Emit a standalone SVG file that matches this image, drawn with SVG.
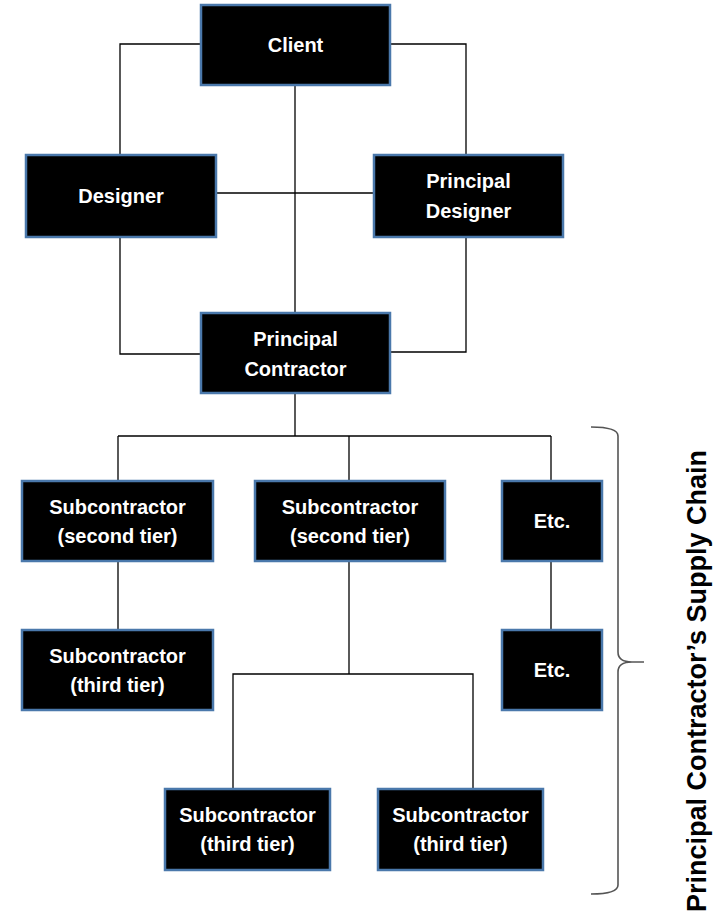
<svg xmlns="http://www.w3.org/2000/svg" width="715" height="920" viewBox="0 0 715 920">
<style>
.box{fill:#000;stroke:#4a78ab;stroke-width:2.5}
.t{fill:#fff;font-family:"Liberation Sans",Arial,sans-serif;font-weight:bold;font-size:20px;text-anchor:middle}
.c{fill:none;stroke:#000;stroke-width:1.3}
.brace{fill:none;stroke:#555;stroke-width:1.6}
.lbl{fill:#000;font-family:"Liberation Sans",Arial,sans-serif;font-weight:bold;font-size:27px;text-anchor:middle}
</style>
<rect width="715" height="920" fill="#fff"/>
<g id="connectors">
<polyline class="c" points="201,44 120,44 120,155"/>
<polyline class="c" points="390,44 466,44 466,155"/>
<line class="c" x1="295" y1="85" x2="295" y2="313"/>
<line class="c" x1="216" y1="193" x2="374" y2="193"/>
<polyline class="c" points="120,237 120,354 201,354"/>
<polyline class="c" points="466,237 466,352 390,352"/>
<line class="c" x1="295" y1="393" x2="295" y2="436"/>
<line class="c" x1="118" y1="436" x2="551" y2="436"/>
<line class="c" x1="118" y1="436" x2="118" y2="481"/>
<line class="c" x1="349" y1="436" x2="349" y2="481"/>
<line class="c" x1="551" y1="436" x2="551" y2="481"/>
<line class="c" x1="118" y1="561" x2="118" y2="630"/>
<line class="c" x1="349" y1="561" x2="349" y2="674"/>
<polyline class="c" points="233,789 233,674 473,674 473,789"/>
<line class="c" x1="551" y1="561" x2="551" y2="630"/>
</g>
<g id="client"><rect class="box" x="201" y="5" width="189" height="80"/><text class="t" x="295.5" y="52">Client</text></g>
<g id="designer"><rect class="box" x="26" y="155" width="190" height="82"/><text class="t" x="121" y="203">Designer</text></g>
<g id="principal-designer"><rect class="box" x="374" y="155" width="189" height="82"/><text class="t" x="468.5" y="188">Principal</text><text class="t" x="468.5" y="218">Designer</text></g>
<g id="principal-contractor"><rect class="box" x="201" y="313" width="189" height="80"/><text class="t" x="295.5" y="346">Principal</text><text class="t" x="295.5" y="376">Contractor</text></g>
<g id="sub-second-1"><rect class="box" x="22" y="481" width="191" height="80"/><text class="t" x="117.5" y="514">Subcontractor</text><text class="t" x="117.5" y="543">(second tier)</text></g>
<g id="sub-second-2"><rect class="box" x="255" y="481" width="190" height="80"/><text class="t" x="350" y="514">Subcontractor</text><text class="t" x="350" y="543">(second tier)</text></g>
<g id="etc-1"><rect class="box" x="502" y="481" width="100" height="80"/><text class="t" x="552" y="528">Etc.</text></g>
<g id="sub-third-1"><rect class="box" x="22" y="630" width="191" height="80"/><text class="t" x="117.5" y="663">Subcontractor</text><text class="t" x="117.5" y="692">(third tier)</text></g>
<g id="etc-2"><rect class="box" x="502" y="630" width="100" height="80"/><text class="t" x="552" y="677">Etc.</text></g>
<g id="sub-third-2"><rect class="box" x="165" y="789" width="165" height="81"/><text class="t" x="247.5" y="822">Subcontractor</text><text class="t" x="247.5" y="851">(third tier)</text></g>
<g id="sub-third-3"><rect class="box" x="378" y="789" width="165" height="81"/><text class="t" x="460.5" y="822">Subcontractor</text><text class="t" x="460.5" y="851">(third tier)</text></g>
<g id="brace">
<path class="brace" d="M591,427 Q618,427 618,436 L618,652 Q618,662 632,662 L644,662 M632,662 Q618,662 618,672 L618,885 Q618,894 591,894"/>
<text class="lbl" transform="translate(706,681) rotate(-90)">Principal Contractor’s Supply Chain</text>
</g>
</svg>
